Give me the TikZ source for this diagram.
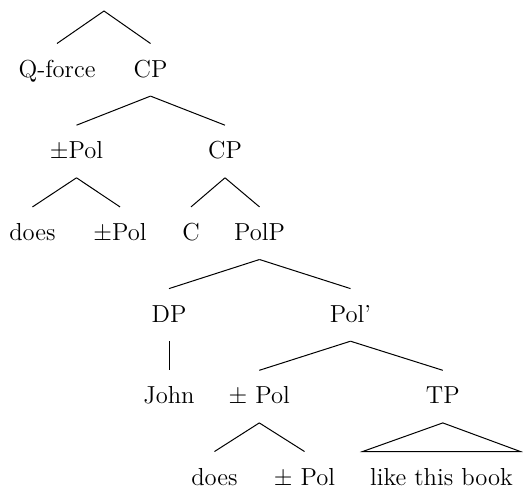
\documentclass[tikz,border=0pt]{standalone}
\usepackage{amsmath}
\usepackage{amssymb}
\usepackage{tikz}

\begin{document}
\begin{tikzpicture}[x=0.5pt,y=-0.5pt,line width=0.5pt,
                        font=\fontsize{12.3}{14}\selectfont]
      \tikzstyle{every node}=[anchor=base,inner sep=0pt,
                              text height=16.5pt,text depth=9.3pt]
      \tikzstyle{leaf}=[text depth=0pt]
      \useasboundingbox (0,0) rectangle (523,487);

      \coordinate (root) at (104,11);
      \node (qforce) at (57,77)      {Q-force};
      \node (cpa)    at (150.5,77)   {CP};
      \node (pola)   at (76.5,158.7) {$\pm$Pol};
      \node (cpb)    at (225,158.7)  {CP};
      \node (doesa)  at (32.5,240.4) {does};
      \node (polb)   at (120,240.4)  {$\pm$Pol};
      \node (c)      at (191,240.4)  {C};
      \node (polp)   at (259.5,240.4) {PolP};
      \node (dp)     at (169,322.1)  {DP};
      \node (polbar) at (350.5,322.1) {Pol'};
      \node (john)   at (169,403.8)  {John};
      \node (polc)   at (259.3,403.8) {$\pm$ Pol};
      \node (tp)     at (442.8,403.8) {TP};
      \node[leaf] (doesb) at (214.5,485) {does};
      \node[leaf] (pold)  at (304.5,485) {$\pm$ Pol};
      \node[leaf,inner xsep=3.5pt] (book) at (441.5,485) {like this book};

      \path (root)       edge (qforce.north)
            (root)       edge (cpa.north)
            (cpa.south)  edge (pola.north)
            (cpa.south)  edge (cpb.north)
            (pola.south) edge (doesa.north)
            (pola.south) edge (polb.north)
            (cpb.south)  edge (c.north)
            (cpb.south)  edge (polp.north)
            (polp.south) edge (dp.north)
            (polp.south) edge (polbar.north)
            (dp.south)   edge (john.north)
            (polbar.south) edge (polc.north)
            (polbar.south) edge (tp.north)
            (polc.south) edge (doesb.north)
            (polc.south) edge (pold.north);

      \draw (tp.south) -- (book.north west) -- (book.north east) -- cycle;

    \end{tikzpicture}
\end{document}
